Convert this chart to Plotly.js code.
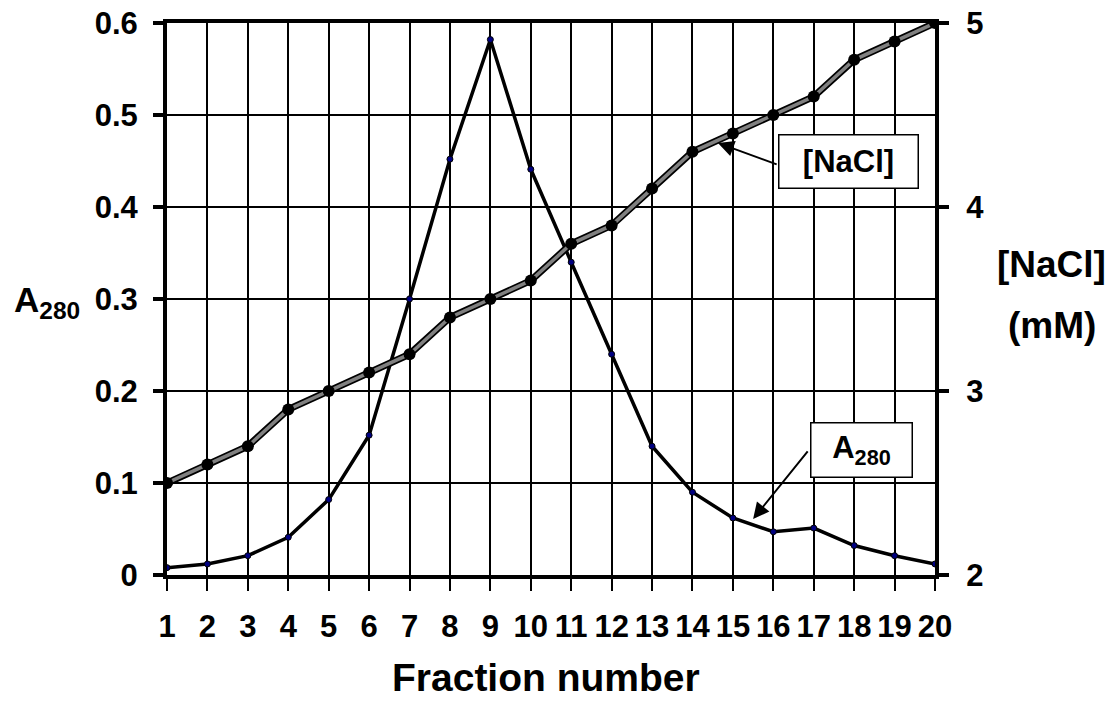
<!DOCTYPE html>
<html>
<head>
<meta charset="utf-8">
<script src="https://cdn.plot.ly/plotly-3.0.1.min.js"></script>
<style>html,body{margin:0;padding:0;background:#fff;}#chart{width:1112px;height:702px;}</style>
</head>
<body>
<div id="chart"></div>
<script>
var fractions = [1,2,3,4,5,6,7,8,9,10,11,12,13,14,15,16,17,18,19,20];
var a280 = [0.008,0.012,0.021,0.041,0.082,0.152,0.30,0.452,0.582,0.441,0.34,0.24,0.14,0.09,0.062,0.047,0.051,0.032,0.021,0.012];
var nacl = [2.5,2.6,2.7,2.9,3.0,3.1,3.2,3.4,3.5,3.6,3.8,3.9,4.1,4.3,4.4,4.5,4.6,4.8,4.9,5.0];
var leftTicks = [0,0.1,0.2,0.3,0.4,0.5,0.6];
var leftTickText = ['0','0.1','0.2','0.3','0.4','0.5','0.6'];
var rightTicks = [2,3,4,5];
var rightTickText = ['2','3','4','5'];

var FONT = 'Liberation Sans, Arial, sans-serif';

var traces = [
  {x: fractions, y: nacl, yaxis: 'y2', mode: 'lines', line: {color: '#000', width: 7}, hoverinfo: 'skip', showlegend: false},
  {x: fractions, y: nacl, yaxis: 'y2', mode: 'lines+markers', line: {color: '#808080', width: 3.5},
   marker: {color: '#000', size: 12, line: {color: '#000', width: 0}}, showlegend: false, name: '[NaCl]'},
  {x: fractions, y: a280, yaxis: 'y', mode: 'lines+markers', line: {color: '#000', width: 3.5},
   marker: {color: '#000080', size: 6, line: {color: '#000', width: 1}}, showlegend: false, name: 'A280'}
];

var layout = {
  width: 1112, height: 702,
  margin: {l: 167, r: 177, t: 23, b: 127},
  paper_bgcolor: '#fff', plot_bgcolor: '#fff',
  font: {family: FONT, color: '#000'},
  showlegend: false,
  xaxis: {
    range: [1, 20], tickvals: fractions, ticktext: fractions.map(String),
    showgrid: true, gridcolor: '#000', gridwidth: 2,
    showline: true, linecolor: '#000', linewidth: 4, mirror: true,
    ticks: 'outside', ticklen: 12, tickwidth: 2, tickcolor: '#000',
    tickfont: {family: FONT, size: 31, color: '#000', weight: 'bold'},
    ticklabelstandoff: 9, zeroline: false, fixedrange: true
  },
  yaxis: {
    range: [0, 0.6], tickvals: leftTicks, ticktext: leftTickText,
    showgrid: true, gridcolor: '#000', gridwidth: 2,
    showline: true, linecolor: '#000', linewidth: 4,
    ticks: 'outside', ticklen: 10, tickwidth: 4, tickcolor: '#000',
    tickfont: {family: FONT, size: 31, color: '#000', weight: 'bold'},
    ticklabelstandoff: 9, zeroline: false, fixedrange: true
  },
  yaxis2: {
    range: [2, 5], tickvals: rightTicks, ticktext: rightTickText,
    overlaying: 'y', side: 'right', showgrid: false,
    showline: true, linecolor: '#000', linewidth: 4,
    ticks: 'outside', ticklen: 10, tickwidth: 4, tickcolor: '#000',
    tickfont: {family: FONT, size: 31, color: '#000', weight: 'bold'},
    ticklabelstandoff: 11, zeroline: false, fixedrange: true
  },
  annotations: [
    {text: 'Fraction number', xref: 'paper', yref: 'paper', x: 0.494, y: -0.186, showarrow: false,
     xanchor: 'center', yanchor: 'middle', font: {family: FONT, size: 39, weight: 'bold'}},
    {text: 'A<sub>280</sub>', xref: 'paper', yref: 'paper', x: -0.156, y: 0.495, showarrow: false,
     xanchor: 'center', yanchor: 'middle', font: {family: FONT, size: 35, weight: 'bold'}},
    {text: '[NaCl]', xref: 'paper', yref: 'paper', x: 1.152, y: 0.562, showarrow: false,
     xanchor: 'center', yanchor: 'middle', font: {family: FONT, size: 37, weight: 'bold'}},
    {text: '(mM)', xref: 'paper', yref: 'paper', x: 1.152, y: 0.452, showarrow: false,
     xanchor: 'center', yanchor: 'middle', font: {family: FONT, size: 37, weight: 'bold'}},
    {text: '[NaCl]', xref: 'x', yref: 'y', x: 17.85, y: 0.449, showarrow: false,
     width: 136, height: 50, borderpad: 1, bordercolor: '#000', borderwidth: 1.5, bgcolor: '#fff',
     font: {family: FONT, size: 31, weight: 'bold'}},
    {text: '', xref: 'x', yref: 'y', x: 14.63, y: 0.4696, axref: 'x', ayref: 'y', ax: 16.12, ay: 0.4457,
     showarrow: true, arrowhead: 2, arrowsize: 1.6, arrowwidth: 2, arrowcolor: '#000'},
    {text: 'A<sub>280</sub>', xref: 'x', yref: 'y', x: 18.19, y: 0.1364, showarrow: false,
     width: 98, height: 51, borderpad: 1, bordercolor: '#000', borderwidth: 1.5, bgcolor: '#fff',
     font: {family: FONT, size: 31, weight: 'bold'}},
    {text: '', xref: 'x', yref: 'y', x: 15.5, y: 0.0609, axref: 'x', ayref: 'y', ax: 16.88, ay: 0.1359,
     showarrow: true, arrowhead: 2, arrowsize: 1.6, arrowwidth: 2, arrowcolor: '#000'}
  ]
};

Plotly.newPlot('chart', traces, layout, {staticPlot: true, displayModeBar: false});
</script>
</body>
</html>
